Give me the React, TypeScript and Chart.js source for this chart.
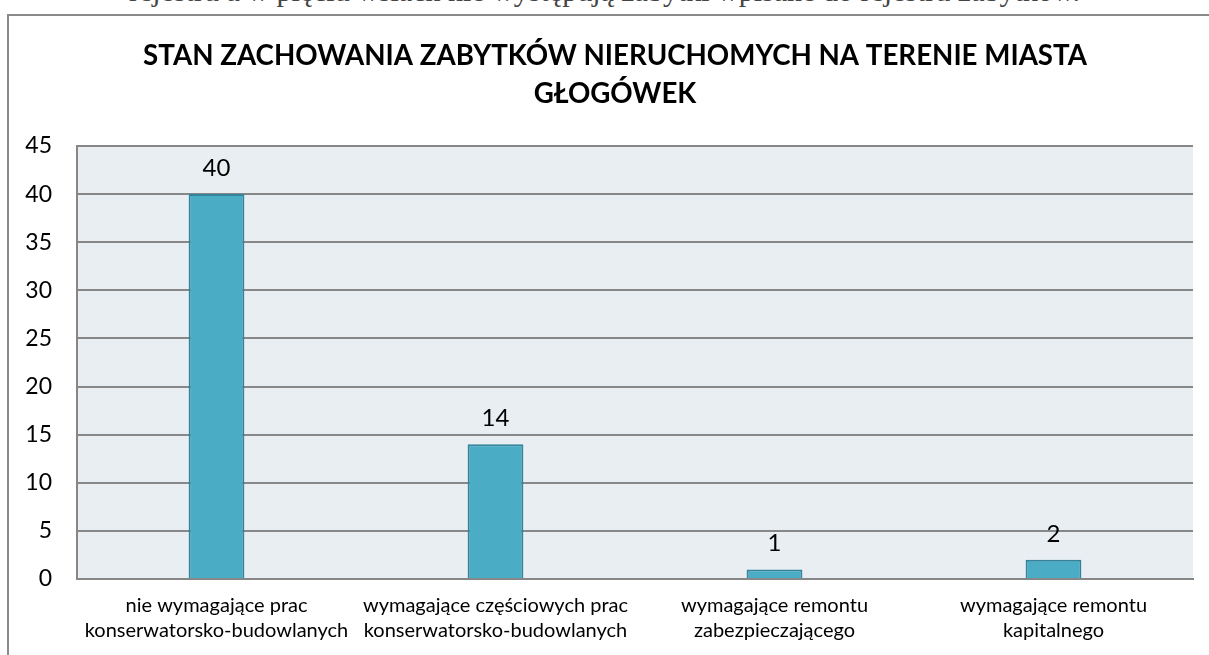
import React, { useEffect, useRef } from "react";
import { Chart, registerables } from "chart.js";

Chart.register(...registerables);

const pageText = "rejestru a w pięciu wsiach nie występują zabytki wpisane do rejestru zabytków.";
const titleLines = ["STAN ZACHOWANIA ZABYTKÓW NIERUCHOMYCH NA TERENIE MIASTA", "GŁOGÓWEK"];
const categories: string[][] = [
  ["nie wymagające prac", "konserwatorsko-budowlanych"],
  ["wymagające częściowych prac", "konserwatorsko-budowlanych"],
  ["wymagające remontu", "zabezpieczającego"],
  ["wymagające remontu", "kapitalnego"],
];
const values = [40, 14, 1, 2];
const yMin = 0;
const yMax = 45;
const yStep = 5;

const FONT = "Lato, 'Open Sans', sans-serif";

const plotBg = {
  id: "plotBg",
  beforeDraw(chart: any) {
    const { ctx, chartArea } = chart;
    ctx.save();
    ctx.fillStyle = "#e8eef2";
    ctx.fillRect(chartArea.left, chartArea.top, chartArea.right - chartArea.left, chartArea.bottom - chartArea.top);
    ctx.restore();
  },
};

const titleDraw = {
  id: "titleDraw",
  afterDraw(chart: any) {
    const { ctx } = chart;
    ctx.save();
    ctx.font = `bold 27.7px ${FONT}`;
    ctx.fillStyle = "#000";
    ctx.textAlign = "center";
    ctx.textBaseline = "alphabetic";
    ctx.fillText(titleLines[0], 615, 65);
    ctx.fillText(titleLines[1], 615, 103);
    ctx.restore();
  },
};

const dataLabels = {
  id: "dataLabels",
  afterDatasetsDraw(chart: any) {
    const { ctx } = chart;
    const meta = chart.getDatasetMeta(0);
    ctx.save();
    ctx.font = `24px ${FONT}`;
    ctx.fillStyle = "#000";
    ctx.textAlign = "center";
    ctx.textBaseline = "alphabetic";
    meta.data.forEach((bar: any, i: number) => {
      ctx.fillText(String(values[i]), bar.x, bar.y - 18);
    });
    ctx.restore();
  },
};

export default function App() {
  const ref = useRef<HTMLCanvasElement>(null);
  useEffect(() => {
    if (!ref.current) return;
    const chart = new Chart(ref.current, {
      type: "bar",
      data: {
        labels: categories,
        datasets: [
          {
            data: values,
            backgroundColor: "#4bacc6",
            borderColor: "#31849b",
            borderWidth: 2,
            barPercentage: 0.2,
            categoryPercentage: 1,
          },
        ],
      },
      options: {
        responsive: false,
        animation: false,
        layout: { padding: { left: 0, right: 33, top: 146, bottom: 0 } },
        plugins: {
          legend: { display: false },
          tooltip: { enabled: false },
          title: { display: false },
        },
        scales: {
          x: {
            grid: { display: false, drawTicks: false },
            border: { display: true, color: "#878787", width: 2 },
            ticks: {
              color: "#000",
              font: { family: FONT, size: 20, lineHeight: 25 / 20 },
              maxRotation: 0,
              autoSkip: false,
              padding: 14,
            },
            afterFit(scale: any) {
              scale.height = 76;
            },
          },
          y: {
            min: yMin,
            max: yMax,
            grid: { color: "#878787", lineWidth: 2, drawTicks: false },
            border: { display: true, color: "#878787", width: 2 },
            ticks: {
              stepSize: yStep,
              color: "#000",
              font: { family: FONT, size: 23 },
              padding: 25,
            },
            afterFit(scale: any) {
              scale.width = 77;
            },
          },
        },
      },
      plugins: [plotBg, dataLabels, titleDraw],
    });
    return () => chart.destroy();
  }, []);

  return (
    <div style={{ position: "absolute", left: 0, top: 0, width: 1209, height: 655, overflow: "hidden", background: "#fff" }}>
      <div
        style={{
          position: "absolute",
          left: 0,
          top: -24,
          width: 1209,
          textAlign: "center",
          fontFamily: "'Liberation Serif', serif",
          fontSize: 30,
          lineHeight: "30px",
          color: "#444",
          whiteSpace: "nowrap",
        }}
      >
        {pageText}
      </div>
      <div
        style={{
          position: "absolute",
          left: 7,
          top: 14,
          width: 1300,
          height: 800,
          border: "2px solid #8a8a8a",
          boxSizing: "border-box",
        }}
      />
      <canvas ref={ref} width={1226} height={655} style={{ position: "absolute", left: 0, top: 0, width: 1226, height: 655 }} />
    </div>
  );
}
